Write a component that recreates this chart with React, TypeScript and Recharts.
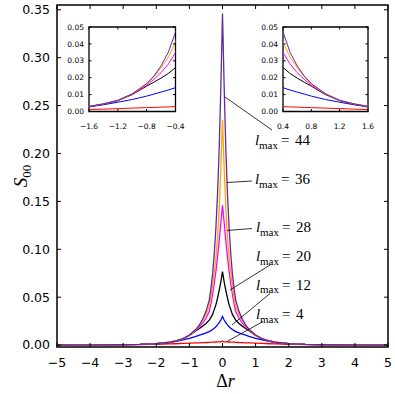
import { LineChart, Line, XAxis, YAxis, ReferenceArea } from 'recharts';

// Δr sample positions
const dr = [
  -5, -4, -3, -2.5, -2, -1.6, -1.4, -1.2, -1, -0.8, -0.7, -0.6, -0.5, -0.4, -0.35, -0.3, -0.25, -0.2, -0.15, -0.1, -0.05,
  0,
  0.05, 0.1, 0.15, 0.2, 0.25, 0.3, 0.35, 0.4, 0.5, 0.6, 0.7, 0.8, 1, 1.2, 1.4, 1.6, 2, 2.5, 3, 4, 5,
];

const l4 = [
  0.0, 0.0001, 0.0003, 0.0005, 0.0008, 0.0012, 0.0014, 0.0017, 0.002, 0.0023, 0.0024, 0.0026, 0.0027, 0.0029, 0.003, 0.0031, 0.0031, 0.0032, 0.0033, 0.0033, 0.0034,
  0.004,
  0.0034, 0.0033, 0.0033, 0.0032, 0.0031, 0.0031, 0.003, 0.0029, 0.0027, 0.0026, 0.0024, 0.0023, 0.002, 0.0017, 0.0014, 0.0012, 0.0008, 0.0005, 0.0003, 0.0001, 0.0,
];
const l12 = [
  0.0001, 0.0002, 0.0004, 0.0007, 0.0014, 0.0027, 0.004, 0.0055, 0.0071, 0.0091, 0.0103, 0.0115, 0.0127, 0.0141, 0.0151, 0.0162, 0.0176, 0.0192, 0.0211, 0.0234, 0.0262,
  0.0298,
  0.0262, 0.0234, 0.0211, 0.0192, 0.0176, 0.0162, 0.0151, 0.0141, 0.0127, 0.0115, 0.0103, 0.0091, 0.0071, 0.0055, 0.004, 0.0027, 0.0014, 0.0007, 0.0004, 0.0002, 0.0001,
];
const l20 = [
  0.0001, 0.0002, 0.0004, 0.0007, 0.0015, 0.0029, 0.0044, 0.0064, 0.01, 0.015, 0.0173, 0.0198, 0.0225, 0.026, 0.029, 0.032, 0.037, 0.042, 0.049, 0.057, 0.066,
  0.0767,
  0.066, 0.057, 0.049, 0.042, 0.037, 0.032, 0.029, 0.026, 0.0225, 0.0198, 0.0173, 0.015, 0.01, 0.0064, 0.0044, 0.0029, 0.0015, 0.0007, 0.0004, 0.0002, 0.0001,
];
const l28 = [
  0.0001, 0.0002, 0.0004, 0.0007, 0.0015, 0.003, 0.0045, 0.0065, 0.0102, 0.0155, 0.019, 0.023, 0.028, 0.035, 0.043, 0.053, 0.064, 0.077, 0.092, 0.109, 0.128,
  0.146,
  0.128, 0.109, 0.092, 0.077, 0.064, 0.053, 0.043, 0.035, 0.028, 0.023, 0.019, 0.0155, 0.0102, 0.0065, 0.0045, 0.003, 0.0015, 0.0007, 0.0004, 0.0002, 0.0001,
];
const l36 = [
  0.0001, 0.0002, 0.0004, 0.0007, 0.0015, 0.003, 0.0045, 0.0066, 0.0104, 0.0162, 0.0205, 0.026, 0.032, 0.041, 0.05, 0.062, 0.076, 0.091, 0.112, 0.143, 0.185,
  0.235,
  0.185, 0.143, 0.112, 0.091, 0.076, 0.062, 0.05, 0.041, 0.032, 0.026, 0.0205, 0.0162, 0.0104, 0.0066, 0.0045, 0.003, 0.0015, 0.0007, 0.0004, 0.0002, 0.0001,
];
const l44 = [
  0.0001, 0.0002, 0.0004, 0.0007, 0.0015, 0.003, 0.0045, 0.0066, 0.0105, 0.0165, 0.021, 0.027, 0.035, 0.047, 0.059, 0.074, 0.095, 0.122, 0.158, 0.205, 0.27,
  0.346,
  0.27, 0.205, 0.158, 0.122, 0.095, 0.074, 0.059, 0.047, 0.035, 0.027, 0.021, 0.0165, 0.0105, 0.0066, 0.0045, 0.003, 0.0015, 0.0007, 0.0004, 0.0002, 0.0001,
];

const xTicks = [-5, -4, -3, -2, -1, 0, 1, 2, 3, 4, 5];
const yTicks = [0, 0.05, 0.1, 0.15, 0.2, 0.25, 0.3, 0.35];
const leftInsetX = [-1.6, -1.2, -0.8, -0.4];
const rightInsetX = [0.4, 0.8, 1.2, 1.6];
const insetY = [0, 0.01, 0.02, 0.03, 0.04, 0.05];
const lmaxLabels = ['44', '36', '28', '20', '12', '4'];

const series = [
  { key: 'l4', color: '#ff0000' },
  { key: 'l12', color: '#0000ff' },
  { key: 'l20', color: '#000000' },
  { key: 'l28', color: '#ff00ff' },
  { key: 'l36', color: '#ffa500' },
  { key: 'l44', color: '#5f2b9f' },
];

const rows = dr.map((x, i) => ({
  dr: x, l4: l4[i], l12: l12[i], l20: l20[i], l28: l28[i], l36: l36[i], l44: l44[i],
}));

const SANS = '"DejaVu Sans", sans-serif';
const SERIF = '"Liberation Serif", "DejaVu Serif", serif';

const minus = (s: string) => s.replace('-', '\u2212');

// ticks point inwards on all four sides, like the matplotlib classic style
function xTick(top: number, len: number, fs: number, dy: number, digits: number) {
  return (p: any) => {
    const { x, y, payload } = p;
    const v = payload.value;
    const label = digits === 0 ? minus(String(v)) : minus(v.toFixed(digits));
    return (
      <g>
        <line x1={x} x2={x} y1={y} y2={y - len} stroke="#000" strokeWidth={1} />
        <line x1={x} x2={x} y1={top} y2={top + len} stroke="#000" strokeWidth={1} />
        <text x={x} y={y + dy} textAnchor="middle" fontSize={fs} fontFamily={SANS} fill="#000">
          {label}
        </text>
      </g>
    );
  };
}

function yTick(right: number, len: number, fs: number, gap: number) {
  return (p: any) => {
    const { x, y, payload } = p;
    return (
      <g>
        <line x1={x} x2={x + len} y1={y} y2={y} stroke="#000" strokeWidth={1} />
        <line x1={right} x2={right - len} y1={y} y2={y} stroke="#000" strokeWidth={1} />
        <text x={x - gap} y={y} dy="0.35em" textAnchor="end" fontSize={fs} fontFamily={SANS} fill="#000">
          {payload.value.toFixed(2)}
        </text>
      </g>
    );
  };
}

function Inset({ left, ticks, marginRight }: { left: number; ticks: number[]; marginRight: number }) {
  const w = 135;
  const h = 115;
  const top = 7;
  return (
    <div style={{ position: 'absolute', left, top: 20, width: w, height: h }}>
      <LineChart width={w} height={h} data={rows} margin={{ top, right: marginRight, bottom: 0, left: 0 }}>
        <XAxis
          dataKey="dr"
          type="number"
          domain={[ticks[0], ticks[ticks.length - 1]]}
          ticks={ticks}
          interval={0}
          allowDataOverflow
          axisLine={false}
          tickLine={false}
          tickSize={0}
          tickMargin={0}
          height={23.5}
          tick={xTick(top, 2.5, 7.5, 17, 1)}
        />
        <YAxis
          type="number"
          domain={[0, 0.05]}
          ticks={insetY}
          interval={0}
          allowDataOverflow
          axisLine={false}
          tickLine={false}
          tickSize={0}
          tickMargin={0}
          width={29}
          tick={yTick(w - marginRight, 2.5, 7.5, 5)}
        />
        <ReferenceArea
          x1={ticks[0]}
          x2={ticks[ticks.length - 1]}
          y1={0}
          y2={0.05}
          fill="none"
          stroke="#000"
          strokeWidth={1.3}
          fillOpacity={0}
        />
        {series.map((s) => (
          <Line
            key={s.key}
            dataKey={s.key}
            type="linear"
            stroke={s.color}
            strokeWidth={1}
            dot={false}
            isAnimationActive={false}
          />
        ))}
      </LineChart>
    </div>
  );
}

// annotation placement: [text x, baseline y, line from x, y, line to x, y]
const labelPos = [
  [255, 145, 225, 97, 272, 130],
  [255, 184, 227, 182.5, 252, 181],
  [256, 232, 227, 230.5, 252, 228.5],
  [256, 261, 230, 290, 270, 265],
  [256, 289.5, 232, 325, 270, 293.5],
  [256, 319, 227, 341.5, 263, 321.5],
];

export default function App() {
  return (
    <div style={{ position: 'absolute', left: 0, top: 0, width: 395, height: 394, background: '#fff' }}>
      <LineChart width={395} height={394} data={rows} margin={{ top: 5, right: 7, bottom: 0, left: 0 }}>
        <XAxis
          dataKey="dr"
          type="number"
          domain={[-5, 5]}
          ticks={xTicks}
          interval={0}
          allowDataOverflow
          axisLine={false}
          tickLine={false}
          tickSize={0}
          tickMargin={0}
          height={47}
          tick={xTick(5, 4, 12.5, 20, 0)}
        />
        <YAxis
          type="number"
          domain={[-0.002, 0.355]}
          ticks={yTicks}
          interval={0}
          allowDataOverflow
          axisLine={false}
          tickLine={false}
          tickSize={0}
          tickMargin={0}
          width={57}
          tick={yTick(388, 4, 12.5, 7)}
        />
        <ReferenceArea
          x1={-5}
          x2={5}
          y1={-0.002}
          y2={0.355}
          fill="none"
          fillOpacity={0}
          stroke="#000"
          strokeWidth={1.5}
        />
        {series.map((s) => (
          <Line
            key={s.key}
            dataKey={s.key}
            type="linear"
            stroke={s.color}
            strokeWidth={1.3}
            dot={false}
            isAnimationActive={false}
          />
        ))}
      </LineChart>

      <Inset left={60} ticks={leftInsetX} marginRight={19.5} />
      <Inset left={254} ticks={rightInsetX} marginRight={21} />

      <svg
        width={395}
        height={394}
        style={{ position: 'absolute', left: 0, top: 0, pointerEvents: 'none' }}
      >
        {lmaxLabels.map((lab, i) => {
          const [tx, ty, x1, y1, x2, y2] = labelPos[i];
          return (
            <g key={lab}>
              <line x1={x1} y1={y1} x2={x2} y2={y2} stroke="#000" strokeWidth={0.8} />
              <text x={tx} y={ty} fontFamily={SERIF} fontSize={15} fill="#000">
                <tspan fontStyle="italic">l</tspan>
                <tspan x={tx + 4} dy={3.5} fontSize={11}>max</tspan>
                <tspan x={tx + 26} dy={-3.5}>=</tspan>
                <tspan x={tx + 40}>{lab}</tspan>
              </text>
            </g>
          );
        })}
        <text
          transform="translate(27,176) rotate(-90)"
          textAnchor="middle"
          fontFamily={SERIF}
          fontSize={19}
          fill="#000"
        >
          <tspan fontStyle="italic">S</tspan>
          <tspan fontSize={13} dy={4}>00</tspan>
        </text>
        <text x={225.5} y={387} textAnchor="middle" fontFamily={SERIF} fontSize={18} fill="#000">
          <tspan>Δ</tspan>
          <tspan fontStyle="italic">r</tspan>
        </text>
      </svg>
    </div>
  );
}
